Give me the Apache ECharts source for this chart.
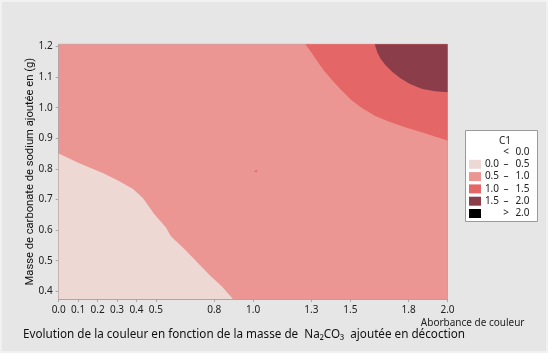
<!DOCTYPE html>
<html>
<head>
<meta charset="utf-8">
<script src="https://cdn.jsdelivr.net/npm/echarts@6/dist/echarts.min.js"></script>
<style>
  html, body { margin: 0; padding: 0; background: #e6e6e6; }
  #chart { width: 548px; height: 353px; box-sizing: border-box; border: 2px solid #f1f1f1; }
</style>
</head>
<body>
<div id="chart"></div>
<script>
// axes
const xTicks = [0, 0.1, 0.2, 0.3, 0.4, 0.5, 0.8, 1.0, 1.3, 1.5, 1.8, 2.0];
const yTicks = [0.4, 0.5, 0.6, 0.7, 0.8, 0.9, 1.0, 1.1, 1.2];
const xMin = 0, xMax = 2.0, yMin = 0.375, yMax = 1.207;

// contour lines (x, y)
const contour05 = [[0, 0.85], [0.10, 0.82], [0.229, 0.786], [0.305, 0.762], [0.382, 0.734],
  [0.433, 0.705], [0.492, 0.652], [0.551, 0.609], [0.577, 0.58], [0.645, 0.539],
  [0.78, 0.451], [0.84, 0.416], [0.896, 0.375]];
const contour10 = [[1.269, 1.207], [1.298, 1.182], [1.332, 1.150], [1.366, 1.120], [1.409, 1.088],
  [1.451, 1.059], [1.502, 1.027], [1.561, 0.998], [1.629, 0.973], [1.697, 0.955],
  [1.782, 0.936], [1.867, 0.920], [1.935, 0.906], [2.0, 0.893]];
const contour15 = [[1.626, 1.207], [1.638, 1.182], [1.655, 1.161], [1.680, 1.139], [1.714, 1.118],
  [1.756, 1.097], [1.807, 1.077], [1.867, 1.062], [1.935, 1.054], [2.0, 1.050]];
const spot10 = [[1.005, 0.792], [1.022, 0.797], [1.017, 0.788]];

// legend levels
const levelNames = ['< 0.0', '0.0 – 0.5', '0.5 – 1.0', '1.0 – 1.5', '1.5 – 2.0', '> 2.0'];
const levelLow = ['', '0.0', '0.5', '1.0', '1.5', ''];
const levelSym = ['<', '–', '–', '–', '–', '>'];
const levelHigh = ['0.0', '0.5', '1.0', '1.5', '2.0', '2.0'];
const levelColors = [null, '#eed8d3', '#ec9694', '#e46666', '#8b3d4a', '#000000'];

// regions of each band
const bandPolys = [
  [],
  [[[xMin, yMin], ...contour05]],
  [[[xMin, yMin], [xMax, yMin], [xMax, yMax], [xMin, yMax]]],
  [[...contour10, [xMax, yMax]], spot10],
  [[...contour15, [xMax, yMax]]],
  []
];

const chart = echarts.init(document.getElementById('chart'));

const font = 'Noto Sans';

const series = levelNames.map((name, i) => ({
  name: name,
  type: 'custom',
  coordinateSystem: 'cartesian2d',
  z: i === 2 ? 1 : 2,
  itemStyle: { color: levelColors[i] || 'transparent' },
  silent: true,
  data: bandPolys[i].length ? [bandPolys[i][0][0]] : [],
  renderItem: (params, api) => {
    if (params.dataIndex !== 0) return null;
    return {
      type: 'group',
      children: bandPolys[i].map(poly => ({
        type: 'polygon',
        shape: { points: poly.map(p => api.coord(p)) },
        style: { fill: levelColors[i], stroke: null }
      }))
    };
  }
}));

// legend box drawn as graphic
const lg = { x: 463, y: 128, w: 72, h: 91, row0: 150, pitch: 12.3 };
const lgText = { fontSize: 10, fontFamily: font, fill: '#222', verticalAlign: 'middle' };
const legendItems = [
  { type: 'rect', shape: { x: lg.x + 0.5, y: lg.y + 0.5, width: lg.w, height: lg.h },
    style: { fill: '#fff', stroke: '#9a9a9a', lineWidth: 1 } },
  { type: 'text', x: 503, y: 139, style: Object.assign({ text: 'C1', align: 'center' }, lgText) }
];
levelNames.forEach((n, i) => {
  const cy = lg.row0 + i * lg.pitch;
  if (levelColors[i]) {
    legendItems.push({ type: 'rect', shape: { x: 467, y: cy - 4.5, width: 12, height: 9 },
      style: { fill: levelColors[i] } });
  }
  legendItems.push({ type: 'text', x: 497, y: cy, style: Object.assign({ text: levelLow[i], align: 'right' }, lgText) });
  legendItems.push({ type: 'text', x: 504, y: cy, style: Object.assign({ text: levelSym[i], align: 'center' }, lgText) });
  legendItems.push({ type: 'text', x: 527.5, y: cy, style: Object.assign({ text: levelHigh[i], align: 'right' }, lgText) });
});

const option = {
  animation: false,
  textStyle: { fontFamily: font },
  title: {
    text: 'Evolution de la couleur en fonction de la masse de  Na₂CO₃  ajoutée en décoction',
    left: 16,
    top: 322,
    textStyle: { fontSize: 11.7, fontWeight: 'normal', color: '#111', fontFamily: font }
  },
  grid: {
    left: 56.7,
    right: 98.5,
    top: 42.3,
    bottom: 52,
    show: true,
    borderColor: '#a8a8a8',
    borderWidth: 1,
    backgroundColor: 'transparent'
  },
  graphic: { elements: [{ type: 'group', children: legendItems }] },
  xAxis: {
    type: 'value',
    min: xMin,
    max: xMax,
    name: 'Aborbance de couleur',
    nameLocation: 'end',
    nameGap: 77,
    nameMoveOverlap: false,
    nameTextStyle: { align: 'right', verticalAlign: 'top', padding: [19, 0, 0, 0], fontSize: 10, color: '#222', fontFamily: font },
    axisLine: { show: true, lineStyle: { color: '#a8a8a8' } },
    axisTick: { show: true, length: 3, customValues: xTicks, lineStyle: { color: '#a8a8a8' } },
    axisLabel: {
      customValues: xTicks,
      formatter: v => v.toFixed(1),
      fontSize: 10,
      color: '#222',
      margin: 6
    },
    splitLine: { show: false }
  },
  yAxis: {
    type: 'value',
    min: yMin,
    max: yMax,
    name: 'Masse de carbonate de sodium ajoutée en (g)',
    nameLocation: 'middle',
    nameGap: 23,
    nameMoveOverlap: false,
    nameTextStyle: { fontSize: 11.2, color: '#111', fontFamily: 'Roboto' },
    axisLine: { show: true, lineStyle: { color: '#a8a8a8' } },
    axisTick: { show: true, length: 3, customValues: yTicks, lineStyle: { color: '#a8a8a8' } },
    axisLabel: {
      customValues: yTicks,
      formatter: v => v.toFixed(1),
      fontSize: 10,
      color: '#222',
      margin: 6
    },
    splitLine: { show: false }
  },
  series: series
};

chart.setOption(option);
</script>
</body>
</html>
